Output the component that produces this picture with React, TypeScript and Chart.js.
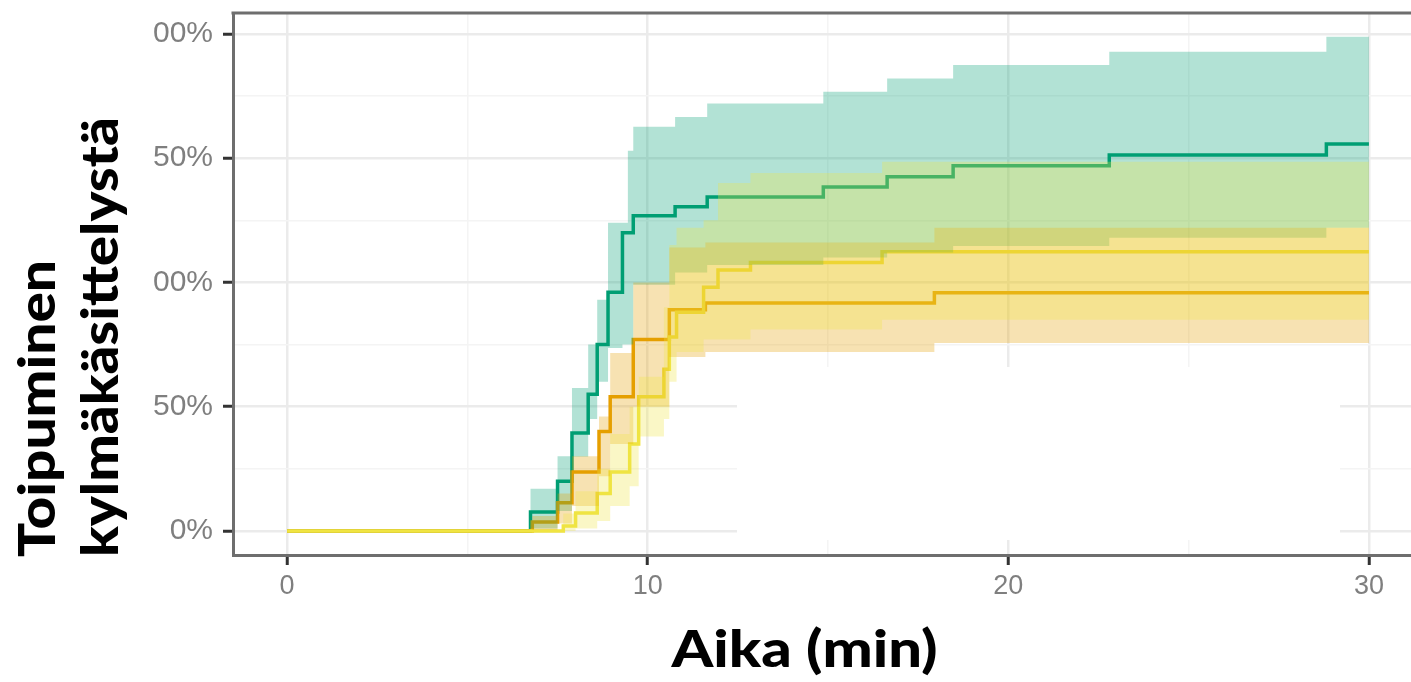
import React, { useEffect, useRef } from 'react';
import { Chart, registerables } from 'chart.js';

Chart.register(...registerables);

// ---- axis text ----
const xTickValues = [0, 10, 20, 30];
const xTickLabels = ['0', '10', '20', '30'];
const yTickValues = [0, 50, 100, 150, 200];
const yTickLabels = ['0%', '50%', '00%', '50%', '00%'];
const xAxisTitle = 'Aika (min)';
const yAxisTitleLines = ['Toipuminen', 'kylmäkäsittelystä'];

// ---- green group ----
const greenTime = [0, 6.75, 7.5, 7.9, 8.35, 8.6, 8.9, 9.3, 9.45, 9.6, 10.76, 11.65, 14.87, 16.64, 18.47, 22.8, 28.82, 30];
const greenEst = [0, 7.6, 20, 39.4, 55, 75, 96, 120, 120, 126.8, 130.4, 134.4, 138.4, 142.5, 146.9, 151.3, 155.7, 155.7];
const greenLow = [0, 1, 8, 29.8, 45, 60, 73.6, 75, 75, 99, 104, 107, 110, 112, 114.6, 118, 122, 122];
const greenHigh = [0, 17, 30, 57.5, 75, 93, 124, 124, 153, 162.6, 166.6, 172, 176.7, 182, 187.5, 192.8, 198.8, 198.8];

// ---- orange group ----
const orangeTime = [0, 6.8, 7.5, 7.9, 8.65, 8.96, 9.6, 10.6, 11.6, 17.95, 30];
const orangeEst = [0, 3.6, 11.3, 23.7, 40, 54, 77, 89, 91.7, 95.8, 95.8];
const orangeLow = [0, 0.5, 3, 10, 22, 35, 50, 70, 72, 75.6, 75.6];
const orangeHigh = [0, 6, 15, 30, 46, 71.6, 100, 114, 116, 122, 122];

// ---- yellow group ----
const yellowTime = [0, 7.66, 8.0, 8.6, 8.96, 9.5, 9.75, 10.45, 10.6, 10.8, 11.55, 11.95, 12.85, 16.5, 30];
const yellowEst = [0, 2, 7.2, 15, 23.7, 35, 54, 65, 78, 88, 98, 105, 108, 112.3, 112.3];
const yellowLow = [0, 0, 1, 4, 10, 18, 38, 45, 60, 72, 77, 77, 81, 85, 85];
const yellowHigh = [0, 7, 16, 25, 39, 50, 62, 90, 115, 122, 125, 140, 144, 148.5, 148.5];

const GREEN = '#009E73';
const ORANGE = '#E69F00';
const YELLOW = '#F0E442';
const GREEN_FILL = 'rgba(0,158,115,0.3)';
const ORANGE_FILL = 'rgba(230,159,0,0.3)';
const YELLOW_FILL = 'rgba(240,228,66,0.3)';

const pts = (t: number[], v: number[]) => t.map((x, i) => ({ x, y: v[i] }));

const lineDs = (label: string, t: number[], v: number[], color: string, order: number) => ({
  label,
  data: pts(t, v),
  borderColor: color,
  backgroundColor: color,
  borderWidth: 3.5,
  pointRadius: 0,
  stepped: true,
  fill: false,
  order,
});

const bandDs = (label: string, t: number[], hi: number[], lo: number[], fillColor: string, order: number) => [
  {
    label: label + ' upper',
    data: pts(t, hi),
    borderWidth: 0,
    borderColor: 'rgba(0,0,0,0)',
    backgroundColor: fillColor,
    pointRadius: 0,
    stepped: true,
    fill: '+1',
    order,
  },
  {
    label: label + ' lower',
    data: pts(t, lo),
    borderWidth: 0,
    borderColor: 'rgba(0,0,0,0)',
    backgroundColor: fillColor,
    pointRadius: 0,
    stepped: true,
    fill: false,
    order,
  },
];

const drawFitted = (
  ctx: CanvasRenderingContext2D,
  text: string,
  x: number,
  y: number,
  width: number,
  center: boolean,
  rotate: boolean
) => {
  ctx.save();
  ctx.translate(x, y);
  if (rotate) ctx.rotate(-Math.PI / 2);
  const w = ctx.measureText(text).width;
  ctx.scale(width / w, 1);
  ctx.textAlign = 'left';
  ctx.fillText(text, center ? -w / 2 : 0, 0);
  ctx.restore();
};

const backdropPlugin = {
  id: 'emptyLegendBackdrop',
  beforeDatasetsDraw(chart: any) {
    const { ctx } = chart;
    ctx.save();
    ctx.fillStyle = '#ffffff';
    ctx.fillRect(737, 367, 1340 - 737, 540 - 367);
    ctx.restore();
  },
};

const framePlugin = {
  id: 'frameAndTitles',
  afterDraw(chart: any) {
    const { ctx, chartArea } = chart;
    ctx.save();
    ctx.strokeStyle = '#6e6e6e';
    ctx.lineWidth = 3;
    ctx.beginPath();
    ctx.moveTo(chartArea.left - 1.5, chartArea.top);
    ctx.lineTo(chart.width, chartArea.top);
    ctx.stroke();

    ctx.fillStyle = '#000000';
    ctx.font = '900 52px Lato, "Open Sans", sans-serif';
    ctx.textBaseline = 'alphabetic';
    drawFitted(ctx, xAxisTitle, 804.5, 667, 266, true, false);
    drawFitted(ctx, yAxisTitleLines[0], 55, 557, 297, false, true);
    drawFitted(ctx, yAxisTitleLines[1], 118, 557, 440, false, true);
    ctx.restore();
  },
};

export default function App() {
  const ref = useRef<HTMLCanvasElement | null>(null);

  useEffect(() => {
    if (!ref.current) return;
    const chart = new Chart(ref.current, {
      type: 'line',
      data: {
        datasets: [
          ...bandDs('green', greenTime, greenHigh, greenLow, GREEN_FILL, 3),
          ...bandDs('orange', orangeTime, orangeHigh, orangeLow, ORANGE_FILL, 2),
          ...bandDs('yellow', yellowTime, yellowHigh, yellowLow, YELLOW_FILL, 1),
          lineDs('green', greenTime, greenEst, GREEN, 6),
          lineDs('orange', orangeTime, orangeEst, ORANGE, 5),
          lineDs('yellow', yellowTime, yellowEst, YELLOW, 4),
        ] as any,
      },
      options: {
        responsive: false,
        maintainAspectRatio: false,
        devicePixelRatio: 1,
        animation: false,
        layout: { padding: { left: 0, right: 0, top: 13, bottom: 0 } },
        plugins: { legend: { display: false }, tooltip: { enabled: false } },
        scales: {
          x: {
            type: 'linear',
            min: -1.5,
            max: 31.5,
            afterBuildTicks: (s: any) => {
              s.ticks = [0, 5, 10, 15, 20, 25, 30].map((v) => ({ value: v }));
            },
            afterFit: (s: any) => {
              s.height = 127;
              s.paddingLeft = 0;
              s.paddingRight = 0;
              s.paddingTop = 0;
              s.paddingBottom = 0;
            },
            grid: {
              color: (c: any) => (c.tick && c.tick.value % 10 === 0 ? '#ebebeb' : '#f4f4f4'),
              lineWidth: (c: any) => (c.tick && c.tick.value % 10 === 0 ? 2.5 : 1.5),
              tickColor: (c: any) => (c.tick && c.tick.value % 10 === 0 ? '#333333' : 'rgba(0,0,0,0)'),
              tickWidth: 3,
              tickLength: 10,
            },
            border: { display: true, color: '#6e6e6e', width: 3 },
            ticks: {
              autoSkip: false,
              maxRotation: 0,
              padding: 5,
              color: '#7f7f7f',
              font: { family: '"Liberation Sans", Arial, sans-serif', size: 27 },
              callback: (v: any) => {
                const i = xTickValues.indexOf(Number(v));
                return i >= 0 ? xTickLabels[i] : '';
              },
            },
          },
          y: {
            type: 'linear',
            min: -9.7,
            max: 208.4,
            afterBuildTicks: (s: any) => {
              s.ticks = [0, 25, 50, 75, 100, 125, 150, 175, 200].map((v) => ({ value: v }));
            },
            afterFit: (s: any) => {
              s.width = 233;
              s.paddingLeft = 0;
              s.paddingRight = 0;
              s.paddingTop = 0;
              s.paddingBottom = 0;
            },
            grid: {
              color: (c: any) => (c.tick && c.tick.value % 50 === 0 ? '#ebebeb' : '#f4f4f4'),
              lineWidth: (c: any) => (c.tick && c.tick.value % 50 === 0 ? 2.5 : 1.5),
              tickColor: (c: any) => (c.tick && c.tick.value % 50 === 0 ? '#333333' : 'rgba(0,0,0,0)'),
              tickWidth: 3,
              tickLength: 10,
            },
            border: { display: true, color: '#6e6e6e', width: 3 },
            ticks: {
              autoSkip: false,
              padding: 10,
              color: '#7f7f7f',
              font: { family: '"Liberation Sans", Arial, sans-serif', size: 30 },
              callback: (v: any) => {
                const i = yTickValues.indexOf(Number(v));
                return i >= 0 ? yTickLabels[i] : '';
              },
            },
          },
        },
      } as any,
      plugins: [backdropPlugin, framePlugin],
    });
    return () => chart.destroy();
  }, []);

  return (
    <div style={{ position: 'absolute', left: 0, top: 0, width: 1411, height: 682, overflow: 'hidden', background: '#fff' }}>
      <canvas ref={ref} width={1423} height={682} style={{ display: 'block' }} />
    </div>
  );
}
